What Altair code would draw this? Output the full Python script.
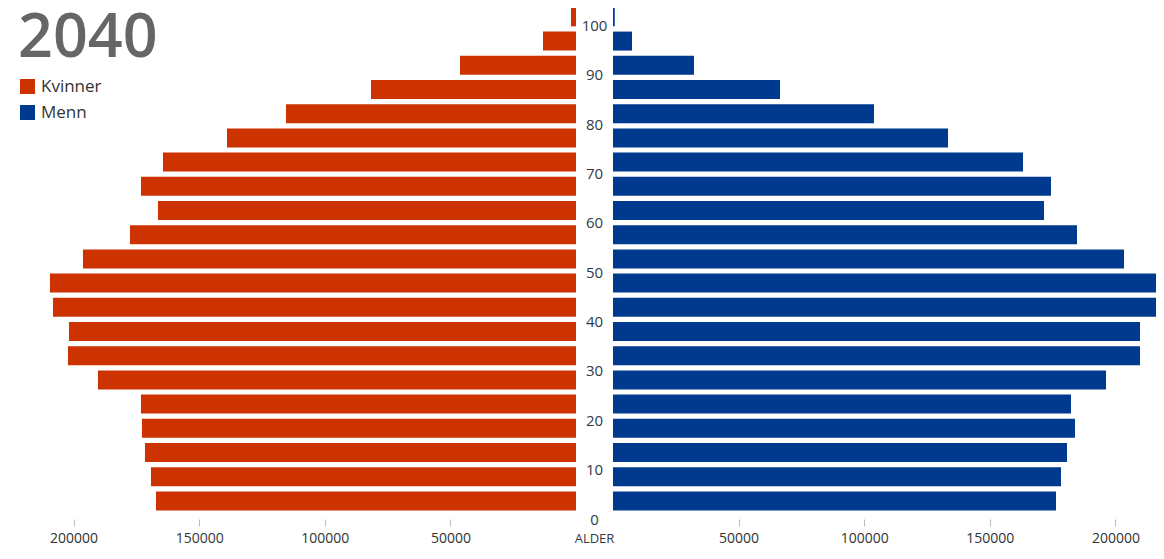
import altair as alt
import pandas as pd

# ---- data ----
age_start = [0, 5, 10, 15, 20, 25, 30, 35, 40, 45, 50, 55, 60, 65, 70, 75, 80, 85, 90, 95, 100]
kvinner = [167200, 169190, 171580, 172770, 173170, 190290, 202230, 201830, 208200, 209400,
           196260, 177550, 166400, 173170, 164410, 138930, 115450, 81610, 46180, 13140, 1990]
menn = [176350, 178340, 180730, 183920, 182320, 196260, 209790, 209790, 218150, 218950,
        203420, 184710, 171580, 174360, 163220, 133360, 103900, 66480, 32250, 7560, 700]
age_ticks = [0, 10, 20, 30, 40, 50, 60, 70, 80, 90, 100]
value_ticks = [50000, 100000, 150000, 200000]
series = ["Kvinner", "Menn"]
colors = ["#cc3300", "#003a8f"]
year = ["2040"]
axis_title = ["ALDER"]

rows = []
for a, k, m in zip(age_start, kvinner, menn):
    rows.append({"age": a, "kjonn": "Kvinner", "value": k})
    rows.append({"age": a, "kjonn": "Menn", "value": m})
df = pd.DataFrame(rows)

FONT = "Open Sans"
H = 510
yscale = alt.Scale(domain=[0, 103.3], nice=False, zero=False)

leg = alt.Legend(
    title=None, orient="none", legendX=11, legendY=70, symbolType="square",
    symbolSize=225, symbolStrokeWidth=0, symbolOpacity=1, labelFontSize=17,
    labelColor="#333333", labelFont=FONT, labelOffset=5, rowPadding=8, padding=0,
)
color = alt.Color("kjonn:N", scale=alt.Scale(domain=series, range=colors), legend=leg)

xaxis = alt.Axis(values=value_ticks, format="d", title=None, grid=False, domain=False)

base = alt.Chart(df).transform_calculate(mid="datum.age + 2.5")

left_bars = base.transform_filter(alt.datum.kjonn == "Kvinner").mark_bar(
    orient="horizontal", size=19, clip=True
).encode(
    x=alt.X("value:Q", scale=alt.Scale(domain=[0, 226100], reverse=True, nice=False, zero=True),
            axis=xaxis, stack=None),
    y=alt.Y("mid:Q", scale=yscale, axis=None),
    color=color,
)

title_txt = alt.Chart(pd.DataFrame({"year": year})).mark_text(
    align="left", baseline="alphabetic", fontSize=61, fontWeight=600, color="#666666", font=FONT
).encode(x=alt.value(10), y=alt.value(49), text="year:N")

left = alt.layer(left_bars, title_txt).properties(width=568, height=H)

mid_txt = alt.Chart(pd.DataFrame({"age": age_ticks})).mark_text(
    fontSize=15, color="#333a48", baseline="middle", align="center", font=FONT, dy=1.5
).encode(
    y=alt.Y("age:Q", scale=yscale, axis=None),
    x=alt.value(18.5),
    text="age:Q",
)
alder = alt.Chart(pd.DataFrame({"t": axis_title})).mark_text(
    fontSize=13, color="#333a48", baseline="middle", align="center", font=FONT
).encode(x=alt.value(18.5), y=alt.value(531), text="t:N")
middle = alt.layer(mid_txt, alder).properties(width=37, height=H)

right = base.transform_filter(alt.datum.kjonn == "Menn").mark_bar(
    orient="horizontal", size=19, clip=True
).encode(
    x=alt.X("value:Q", scale=alt.Scale(domain=[0, 216160], nice=False, zero=True),
            axis=xaxis, stack=None),
    y=alt.Y("mid:Q", scale=yscale, axis=None),
    color=color,
).properties(width=543, height=H)

chart = alt.hconcat(left, middle, right, spacing=0, bounds="flush").resolve_scale(
    color="shared"
).properties(padding=0).configure_view(stroke=None).configure_axis(
    labelFont=FONT, labelFontSize=14, labelColor="#333333", tickColor="#bbbbbb",
    tickSize=7, tickWidth=1, domain=False, grid=False, offset=1, labelPadding=5,
)

chart.save("out.html", embed_options={"renderer": "svg", "actions": False})
